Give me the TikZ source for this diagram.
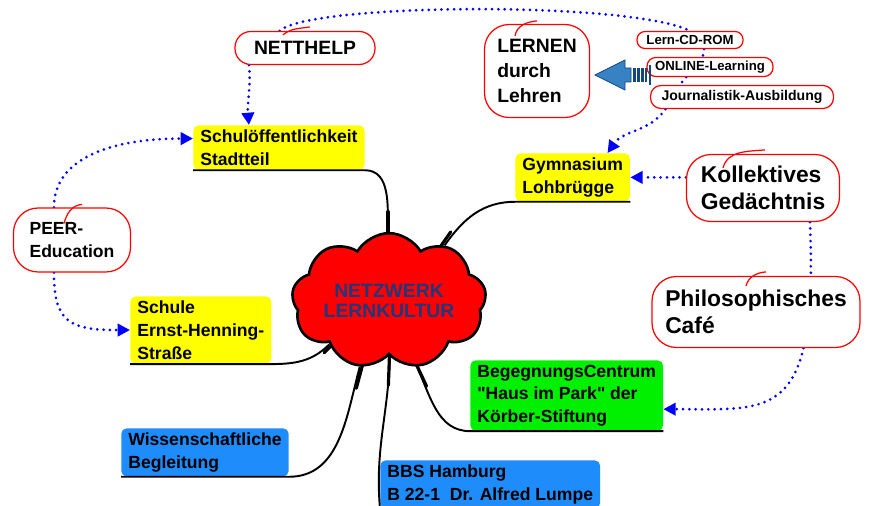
\documentclass[tikz,border=0pt]{standalone}
\usepackage{fontspec}
\setmainfont{Liberation Sans}
\usetikzlibrary{arrows.meta}
\usetikzlibrary{calc}
\usetikzlibrary{shapes.symbols}
\usetikzlibrary{backgrounds}

\definecolor{topicyellow}{RGB}{255,255,0}
\definecolor{topicgreen}{RGB}{0,240,0}
\definecolor{topicblue}{RGB}{30,140,250}
\definecolor{netblue}{RGB}{30,55,125}
\definecolor{arrowblue}{RGB}{55,130,195}
\definecolor{arrowedge}{RGB}{20,70,130}

\tikzset{
  topic/.style={rectangle, rounded corners=3pt, anchor=north west, align=left,
    inner xsep=4pt, inner ysep=2.5pt, font=\bfseries\fontsize{10}{13}\selectfont},
  scribble/.style={rectangle, rounded corners=9pt, draw=red, line width=0.7pt,
    fill=white, align=left, inner sep=0pt},
  redpen/.style={red, line width=0.7pt},
  branch/.style={black, line width=1.1pt},
  root/.style={black, line width=1.8pt, line cap=round},
  link/.style={blue, line width=1.7pt, line cap=round, dash pattern=on 0pt off 3.6pt},
  linkto/.style={link, -{Triangle[length=7pt, width=7pt]}},
}

\begin{document}
\begin{tikzpicture}[x=0.02cm, y=0.02cm]

% background
\begin{pgfonlayer}{background}
\fill[white] (0,0) rectangle (869,-506);
\end{pgfonlayer}
\useasboundingbox (0,0) rectangle (869,-506);

% central cloud
\node[cloud, cloud puffs=9, cloud puff arc=120, aspect=1.75, minimum width=37mm,
  minimum height=21mm, inner sep=0pt, fill=red, draw=black, line width=1.5pt,
  text=netblue, align=center, font=\bfseries\fontsize{11}{11.5}\selectfont]
  (net) at (389,-301) {NETZWERK\\LERNKULTUR};

% topics of the mind map
\node[topic, fill=topicyellow] (schul) at (193,-125) {Schulöffentlichkeit\\Stadtteil};
\node[topic, fill=topicyellow] (gym) at (515,-153) {Gymnasium\\Lohbrügge};
\node[topic, fill=topicyellow] (schule) at (130,-296) {Schule\\Ernst-Henning-\\Straße};
\node[topic, fill=topicgreen] (begegnung) at (470,-360) {BegegnungsCentrum\\\textquotedbl Haus im Park\textquotedbl{} der\\Körber-Stiftung};
\node[topic, fill=topicblue] (wissen) at (121,-428) {Wissenschaftliche\\Begleitung};
\node[topic, fill=topicblue] (bbs) at (380,-460) {BBS Hamburg\\B 22-1\ \ Dr. Alfred Lumpe};

% branches, running on as underlines
\draw[branch] (net.91) to[out=90,in=0] (schul.south east) -- (schul.south west);
\draw[branch] (net.45) to[out=55,in=180] (gym.south west) -- (gym.south east);
\draw[branch] (net.216) to[out=225,in=0] (schule.south east) -- (schule.south west);
\draw[branch] (net.293) to[out=-65,in=180] (begegnung.south west) -- (begegnung.south east);
\draw[branch] (net.246) to[out=-105,in=0] (wissen.south east) -- (wissen.south west);
\draw[branch] (net.271) to[out=-92,in=95] (bbs.south west) -- (bbs.south east);

% thicker roots of the branches, behind the cloud
\begin{pgfonlayer}{background}
\draw[root] ($(net.center)!0.8!(net.91)$) -- ++(90:34);
\draw[root] ($(net.center)!0.8!(net.45)$) -- ++(55:30);
\draw[root] ($(net.center)!0.8!(net.216)$) -- ++(225:24);
\draw[root] ($(net.center)!0.8!(net.293)$) -- ++(-65:36);
\draw[root] ($(net.center)!0.8!(net.246)$) -- ++(-105:36);
\draw[root] ($(net.center)!0.8!(net.271)$) -- ++(-92:40);
\end{pgfonlayer}

% red loops
\node[scribble, minimum width=28mm, minimum height=6.6mm,
  font=\bfseries\fontsize{11}{13}\selectfont] (netthelp) at (305,-48) {NETTHELP};
\node[scribble, minimum width=21mm, minimum height=18.6mm, rounded corners=14pt,
  font=\bfseries\fontsize{11}{14}\selectfont] (lernen) at (537,-71) {LERNEN\\durch\\Lehren};
\node[scribble, minimum width=21.2mm, minimum height=3.4mm, rounded corners=4.5pt,
  font=\bfseries\fontsize{7.5}{9}\selectfont] (cdrom) at (690,-40) {Lern-CD-ROM};
\node[scribble, minimum width=25.2mm, minimum height=3.8mm, rounded corners=5pt,
  font=\bfseries\fontsize{7.5}{9}\selectfont] (online) at (710,-67) {ONLINE-Learning};
\node[scribble, minimum width=36.6mm, minimum height=4.6mm, rounded corners=6pt,
  font=\bfseries\fontsize{8}{9}\selectfont] (journal) at (742,-97) {Journalistik-Ausbildung};
\node[scribble, minimum width=30.6mm, minimum height=13.4mm, rounded corners=14pt,
  font=\bfseries\fontsize{13}{15}\selectfont] (kollektiv) at (763,-188) {Kollektives\\Gedächtnis};
\node[scribble, minimum width=41.6mm, minimum height=14.2mm, rounded corners=14pt,
  font=\bfseries\fontsize{13}{15}\selectfont] (philo) at (756,-312) {Philosophisches\\Café};
\node[scribble, minimum width=23.4mm, minimum height=12.8mm, rounded corners=14pt,
  font=\bfseries\fontsize{10}{13}\selectfont] (peer) at (72,-240) {PEER-\\Education};

% pen tails of the red loops
\draw[redpen] ($(netthelp.north)+(-22,-4)$) to[out=40,in=190] ($(netthelp.north)+(5,4)$);
\draw[redpen] ($(lernen.north)+(-22,-12)$) to[out=80,in=185] ($(lernen.north)+(0,3)$);
\draw[redpen] ($(kollektiv.north)+(-40,-14)$) to[out=75,in=185] ($(kollektiv.north)+(2,4)$);
\draw[redpen] ($(philo.north)+(-10,-10)$) to[out=75,in=185] ($(philo.north)+(10,4)$);
\draw[redpen] ($(peer.north)+(-8,-16)$) to[out=75,in=185] ($(peer.north)+(10,3)$);

% block arrow towards LERNEN durch Lehren
\filldraw[fill=arrowblue, draw=arrowedge, line width=0.5pt]
  (595,-75) -- (625,-60) -- (625,-68) -- (631,-68) -- (631,-82) -- (625,-82) -- (625,-90) -- cycle;
\fill[arrowedge] (633,-68) rectangle (635.5,-82);
\fill[arrowedge] (637,-68) rectangle (639.5,-82);
\fill[arrowedge] (641,-68) rectangle (643.5,-82);
\fill[arrowedge] (645,-68) rectangle (647,-82);
\draw[arrowedge, line width=0.6pt] (650,-65) -- (650,-85);

% dotted links
\begin{pgfonlayer}{background}
\draw[link] (netthelp.146) .. controls +(30,28) and +(-60,30) .. (cdrom.north);
\draw[link] (cdrom.-33) -- (online.126);
\draw[link] (online.203) -- (journal.169);
\draw[linkto] (journal.189) to[out=235,in=55] (gym.35);
\draw[linkto] (netthelp.197) to[out=-85,in=95] (schul.143);
\draw[linkto] (gym.east -| kollektiv.west) -- (gym.east);
\draw[linkto] (kollektiv.-36) .. controls +(8,-200) and +(110,0) .. (begegnung.-8);
\draw[linkto] (peer.119) .. controls +(0,50) and +(-80,0) .. (schul.174);
\draw[linkto] (peer.241) .. controls +(0,-50) and +(-60,0) .. (schule.west);
\end{pgfonlayer}

\end{tikzpicture}
\end{document}
